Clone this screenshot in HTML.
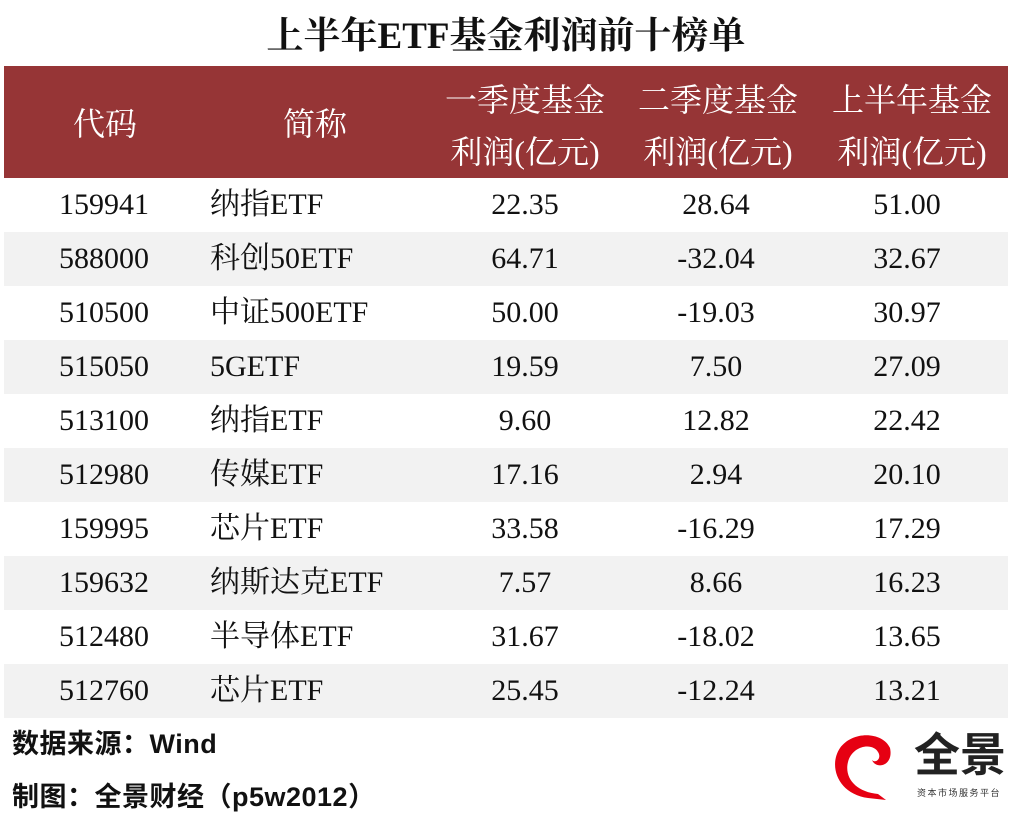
<!DOCTYPE html>
<html><head><meta charset="utf-8"><style>
body{margin:0;width:1012px;height:830px;background:#fff;position:relative;overflow:hidden;font-family:"Liberation Serif","Noto Serif CJK SC",serif;color:#111}
.t{position:absolute;white-space:nowrap}
.title{left:0;width:1012px;text-align:center;top:14px;font-size:37px;font-weight:bold;line-height:46px}
.hdr{position:absolute;left:4px;width:1004px;top:66px;height:112px;background:#963536}
.h{position:absolute;color:#fff;font-size:32px;line-height:52px;text-align:center}
.row{position:absolute;left:4px;width:1004px;height:54px}
.g{background:#f2f2f2}
.c{position:absolute;font-size:30px;line-height:54px;text-align:center}
.f{font-family:"Liberation Sans","Noto Sans CJK SC",sans-serif;font-weight:bold;font-size:27px;letter-spacing:0.5px}
</style></head><body>
<div class="t title">上半年ETF基金利润前十榜单</div>
<div class="hdr"></div>
<div class="h" style="left:40px;width:130px;top:98px">代码</div>
<div class="h" style="left:250px;width:130px;top:98px">简称</div>
<div class="h" style="left:425px;width:200px;top:74px">一季度基金<br>利润(亿元)</div>
<div class="h" style="left:618px;width:200px;top:74px">二季度基金<br>利润(亿元)</div>
<div class="h" style="left:812px;width:200px;top:74px">上半年基金<br>利润(亿元)</div>
<div id="rows"></div>
<script>
var d=[["159941","纳指ETF","22.35","28.64","51.00"],["588000","科创50ETF","64.71","-32.04","32.67"],["510500","中证500ETF","50.00","-19.03","30.97"],["515050","5GETF","19.59","7.50","27.09"],["513100","纳指ETF","9.60","12.82","22.42"],["512980","传媒ETF","17.16","2.94","20.10"],["159995","芯片ETF","33.58","-16.29","17.29"],["159632","纳斯达克ETF","7.57","8.66","16.23"],["512480","半导体ETF","31.67","-18.02","13.65"],["512760","芯片ETF","25.45","-12.24","13.21"]];
var h="";d.forEach(function(r,i){var y=178+i*54;
h+='<div class="row'+(i%2?' g':'')+'" style="top:'+y+'px"></div>';
h+='<div class="c" style="left:44px;width:120px;top:'+y+'px">'+r[0]+'</div>';
h+='<div class="c" style="left:210px;text-align:left;top:'+y+'px">'+r[1]+'</div>';
h+='<div class="c" style="left:445px;width:160px;top:'+y+'px">'+r[2]+'</div>';
h+='<div class="c" style="left:636px;width:160px;top:'+y+'px">'+r[3]+'</div>';
h+='<div class="c" style="left:827px;width:160px;top:'+y+'px">'+r[4]+'</div>';});
document.getElementById("rows").innerHTML=h;
</script>
<div class="t f" style="left:12px;top:727px;line-height:34px">数据来源：Wind</div>
<div class="t f" style="left:12px;top:780px;line-height:34px">制图：全景财经（p5w2012）</div>
<svg class="t" style="left:828px;top:726px" width="80" height="80" viewBox="0 0 80 80">
<path d="M62 22 C55 6 25 4 12 22 C0 40 10 68 40 72 L58 74 L50 68 C28 66 16 52 20 36 C24 20 44 16 50 26 C54 32 48 38 44 34 C48 44 66 40 62 22 Z" fill="#e60012"/>
</svg>
<div class="t" style="left:914px;top:728px;font-family:'Liberation Sans','Noto Sans CJK SC',sans-serif;font-weight:bold;font-size:46px;line-height:54px;color:#222">全景</div>
<div class="t" style="left:917px;top:786px;font-family:'Liberation Sans','Noto Sans CJK SC',sans-serif;font-size:9px;letter-spacing:1.5px;color:#333">资本市场服务平台</div>
</body></html>
